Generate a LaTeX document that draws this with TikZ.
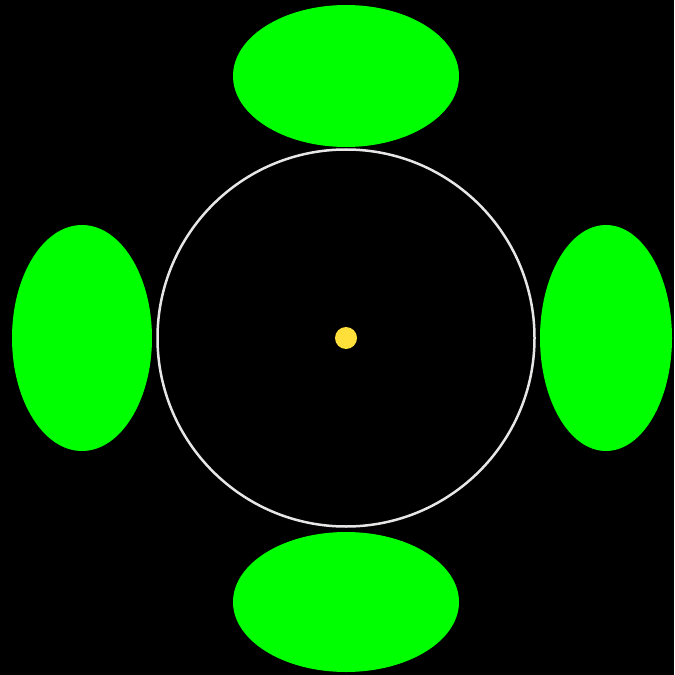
\documentclass[tikz,border=0pt]{standalone}
\usepackage{tikz}
\usepackage{xcolor}
\definecolor{petal}{HTML}{00FF00}
\definecolor{sun}{HTML}{FFE03A}
\definecolor{ring}{HTML}{E6E6E6}

\begin{document}
\begin{tikzpicture}[
        x=0.02cm, y=-0.02cm,
        petal/.style={fill=petal, draw=none},
        ring/.style={draw=ring, line width=0.05cm}
    ]
        \useasboundingbox (0,0) rectangle (674,675);
        \fill[black] (0,0) rectangle (674,675);
        \clip (0,0) rectangle (674,675);

        % green petals
        \fill[petal] (346,76) ellipse [x radius=113, y radius=71];
        \fill[petal] (346,602) ellipse [x radius=113, y radius=70];
        \fill[petal] (82,338) ellipse [x radius=70, y radius=113];
        \fill[petal] (606,338) ellipse [x radius=66, y radius=113];

        % orbit and centre
        \draw[ring] (346,338) circle [radius=188.5];
        \fill[sun] (346,338) circle [radius=11];
    \end{tikzpicture}
\end{document}
